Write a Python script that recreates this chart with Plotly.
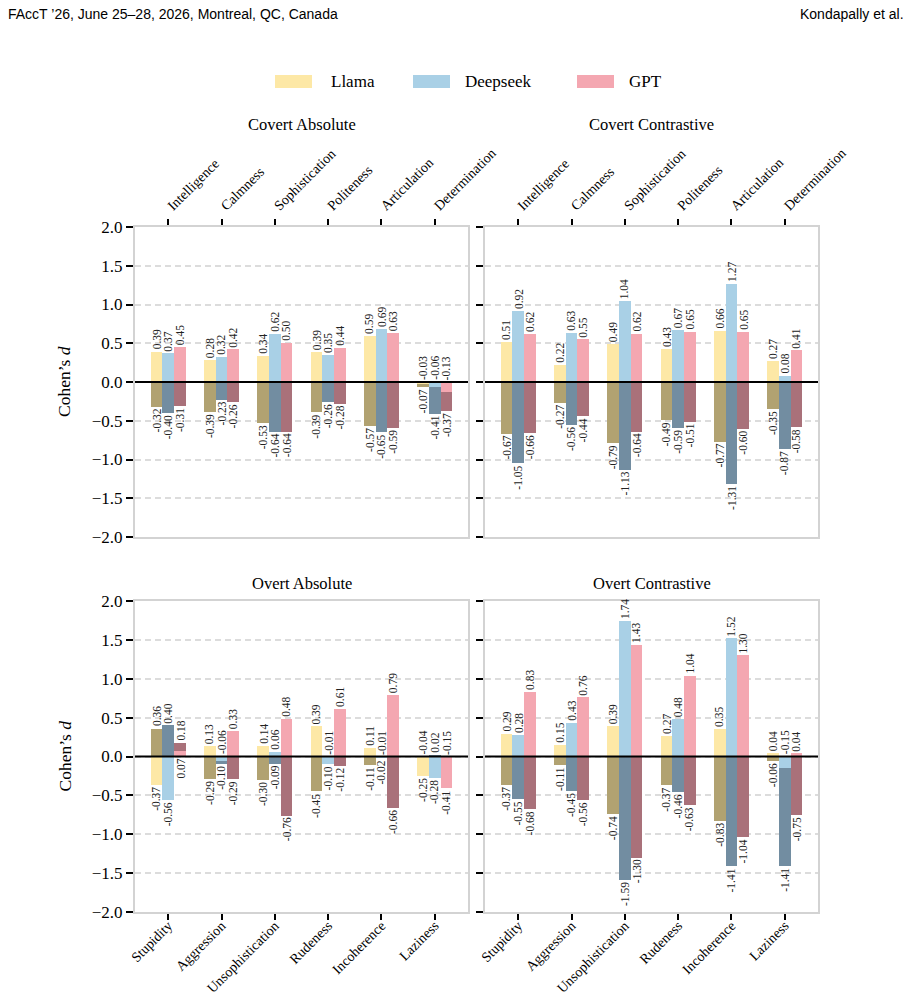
import plotly.graph_objects as go

W, H = 912, 1007

models = ["Llama", "Deepseek", "GPT"]
pos_traits = ["Intelligence", "Calmness", "Sophistication", "Politeness", "Articulation", "Determination"]
neg_traits = ["Stupidity", "Aggression", "Unsophistication", "Rudeness", "Incoherence", "Laziness"]
y_ticks = [-2.0, -1.5, -1.0, -0.5, 0.0, 0.5, 1.0, 1.5, 2.0]

# Covert Absolute
ca_pos_llama = [0.39, 0.28, 0.34, 0.39, 0.59, -0.03]
ca_pos_deepseek = [0.37, 0.32, 0.62, 0.35, 0.69, -0.06]
ca_pos_gpt = [0.45, 0.42, 0.50, 0.44, 0.63, -0.13]
ca_neg_llama = [-0.32, -0.39, -0.53, -0.39, -0.57, -0.07]
ca_neg_deepseek = [-0.40, -0.23, -0.64, -0.26, -0.65, -0.41]
ca_neg_gpt = [-0.31, -0.26, -0.64, -0.28, -0.59, -0.37]

# Covert Contrastive
cc_pos_llama = [0.51, 0.22, 0.49, 0.43, 0.66, 0.27]
cc_pos_deepseek = [0.92, 0.63, 1.04, 0.67, 1.27, 0.08]
cc_pos_gpt = [0.62, 0.55, 0.62, 0.65, 0.65, 0.41]
cc_neg_llama = [-0.67, -0.27, -0.79, -0.49, -0.77, -0.35]
cc_neg_deepseek = [-1.05, -0.56, -1.13, -0.59, -1.31, -0.87]
cc_neg_gpt = [-0.66, -0.44, -0.64, -0.51, -0.60, -0.58]

# Overt Absolute
oa_pos_llama = [-0.37, 0.13, 0.14, 0.39, 0.11, -0.25]
oa_pos_deepseek = [-0.56, -0.06, 0.06, -0.10, -0.01, -0.28]
oa_pos_gpt = [0.07, 0.33, 0.48, 0.61, 0.79, -0.41]
oa_neg_llama = [0.36, -0.29, -0.30, -0.45, -0.11, -0.04]
oa_neg_deepseek = [0.40, -0.10, -0.09, -0.01, -0.02, 0.02]
oa_neg_gpt = [0.18, -0.29, -0.76, -0.12, -0.66, -0.15]

# Overt Contrastive
oc_pos_llama = [0.29, 0.15, 0.39, 0.27, 0.35, 0.04]
oc_pos_deepseek = [0.28, 0.43, 1.74, 0.48, 1.52, -0.15]
oc_pos_gpt = [0.83, 0.76, 1.43, 1.04, 1.30, 0.04]
oc_neg_llama = [-0.37, -0.11, -0.74, -0.37, -0.83, -0.06]
oc_neg_deepseek = [-0.55, -0.45, -1.59, -0.46, -1.41, -1.41]
oc_neg_gpt = [-0.68, -0.56, -1.30, -0.63, -1.04, -0.75]

pale = {"Llama": "#fde8a6", "Deepseek": "#a9d0e6", "GPT": "#f4a7b1"}
dark = {"Llama": "#b1a271", "Deepseek": "#728da1", "GPT": "#a9717a"}

SERIF = "Liberation Serif, DejaVu Serif, serif"
SANS_N = "Liberation Sans Narrow, Arial Narrow, Liberation Sans, sans-serif"

panels = [
    ("Covert Absolute", [ca_pos_llama, ca_pos_deepseek, ca_pos_gpt], [ca_neg_llama, ca_neg_deepseek, ca_neg_gpt], "top", 0, 0),
    ("Covert Contrastive", [cc_pos_llama, cc_pos_deepseek, cc_pos_gpt], [cc_neg_llama, cc_neg_deepseek, cc_neg_gpt], "top", 0, 1),
    ("Overt Absolute", [oa_pos_llama, oa_pos_deepseek, oa_pos_gpt], [oa_neg_llama, oa_neg_deepseek, oa_neg_gpt], "bottom", 1, 0),
    ("Overt Contrastive", [oc_pos_llama, oc_pos_deepseek, oc_pos_gpt], [oc_neg_llama, oc_neg_deepseek, oc_neg_gpt], "bottom", 1, 1),
]

col_px = [(135, 468), (485, 818)]
row_px = [(227, 537), (601, 912)]


def px_x(v):
    return v / W


def px_y(v):
    return 1 - v / H


fig = go.Figure()
annotations = []
shapes = []
layout = {}

bw = 0.22


def label_spots(p, d):
    """Return (anchor, side) for the pale and dark labels of a pair."""
    res = []
    for v, other in ((p, d), (d, p)):
        same = (v >= 0) == (other >= 0)
        if same and abs(v) < abs(other):
            # flipped to the other side of the zero line
            res.append((0.0, "top" if v >= 0 else "bottom"))
        else:
            res.append((v, "bottom" if v >= 0 else "top"))
    return res


for n, (title, pos_vals, neg_vals, side, r, c) in enumerate(panels, start=1):
    xa = "x" if n == 1 else f"x{n}"
    ya = "y" if n == 1 else f"y{n}"
    xkey = "xaxis" if n == 1 else f"xaxis{n}"
    ykey = "yaxis" if n == 1 else f"yaxis{n}"
    cats = list(range(len(pos_traits)))
    # dark bars first, pale on top
    for k, m in enumerate(models):
        fig.add_trace(go.Bar(x=cats, y=neg_vals[k], width=bw, offset=-1.5 * bw + k * bw,
                             marker=dict(color=dark[m], line=dict(width=0)),
                             xaxis=xa, yaxis=ya, showlegend=False, hoverinfo="skip"))
    for k, m in enumerate(models):
        fig.add_trace(go.Bar(x=cats, y=pos_vals[k], width=bw, offset=-1.5 * bw + k * bw,
                             marker=dict(color=pale[m], line=dict(width=0)),
                             xaxis=xa, yaxis=ya, showlegend=False, hoverinfo="skip"))
    # bar value labels
    for k, m in enumerate(models):
        for i in cats:
            xc = i - bw + k * bw
            p, d = pos_vals[k][i], neg_vals[k][i]
            for v, (anchor, sd) in zip((p, d), label_spots(p, d)):
                annotations.append(dict(
                    x=xc, y=anchor, xref=xa, yref=ya, text=f"{v:.2f}", textangle=-90,
                    showarrow=False, xanchor="center", yanchor=sd,
                    yshift=1 if sd == "bottom" else -1, borderpad=0,
                    font=dict(family=SERIF, size=11.5, color="#222222")))
    x0, x1 = col_px[c]
    y0, y1 = row_px[r]
    layout[xkey] = dict(
        domain=[px_x(x0), px_x(x1)], range=[-0.625, 5.625], anchor=ya, automargin=False,
        tickvals=cats, ticktext=pos_traits if side == "top" else neg_traits,
        side=side, tickangle=-45, ticks="outside", ticklen=6, tickwidth=1.5, tickcolor="black",
        ticklabelstandoff=0 if side == "top" else -8,
        showline=True, linecolor="#d3d3d3", linewidth=2, mirror=True,
        showgrid=False, zeroline=False, fixedrange=True,
        tickfont=dict(family=SERIF, size=14, color="black"))
    layout[ykey] = dict(
        domain=[px_y(y1), px_y(y0)], range=[-2.0, 2.0], anchor=xa, automargin=False,
        tickvals=y_ticks, tickformat=".1f", showticklabels=(c == 0),
        ticks="outside", ticklen=7, tickwidth=1.5, tickcolor="black",
        showline=True, linecolor="#d3d3d3", linewidth=2, mirror=True,
        showgrid=True, gridcolor="#dcdcdc", gridwidth=1.5, griddash="6px,4px",
        zeroline=False, fixedrange=True,
        tickfont=dict(family=SERIF, size=17, color="black"))
    # zero line above bars
    shapes.append(dict(type="line", xref=f"{xa} domain", yref=ya, x0=0, x1=1, y0=0, y1=0,
                       line=dict(color="black", width=2), layer="above"))
    # panel title
    annotations.append(dict(x=px_x((x0 + x1) / 2), y=px_y(125 if r == 0 else 583), xref="paper", yref="paper",
                            text=title, showarrow=False, xanchor="center", yanchor="middle",
                            font=dict(family=SERIF, size=16.5, color="black")))
    if c == 0:
        annotations.append(dict(x=px_x(64), y=px_y((y0 + y1) / 2), xref="paper", yref="paper",
                                text="Cohen’s <i>d</i>", textangle=-90, showarrow=False,
                                xanchor="center", yanchor="middle",
                                font=dict(family=SERIF, size=17.5, color="black")))

# legend
leg = [("Llama", 275, 329), ("Deepseek", 413, 463), ("GPT", 577, 627)]
for m, px0, tx in leg:
    shapes.append(dict(type="rect", xref="paper", yref="paper",
                       x0=px_x(px0), x1=px_x(px0 + 37), y0=px_y(88), y1=px_y(75),
                       fillcolor=pale[m], line=dict(width=0)))
    annotations.append(dict(x=px_x(tx), y=px_y(81.5), xref="paper", yref="paper", text=m,
                            showarrow=False, xanchor="left", yanchor="middle",
                            font=dict(family=SERIF, size=17, color="black")))

# page header
annotations.append(dict(x=px_x(6), y=px_y(14), xref="paper", yref="paper",
                        text="FAccT ’26, June 25–28, 2026, Montreal, QC, Canada", showarrow=False,
                        xanchor="left", yanchor="middle", font=dict(family=SANS_N, size=14, color="black")))
annotations.append(dict(x=px_x(906), y=px_y(14), xref="paper", yref="paper",
                        text="Kondapally et al.", showarrow=False,
                        xanchor="right", yanchor="middle", font=dict(family=SANS_N, size=14, color="black")))

fig.update_layout(
    width=W, height=H, margin=dict(l=0, r=0, t=0, b=0, autoexpand=False),
    paper_bgcolor="white", plot_bgcolor="white",
    barmode="overlay", bargap=0, showlegend=False,
    annotations=annotations, shapes=shapes, **layout)

fig.write_html("out.html", config={"displayModeBar": False})
